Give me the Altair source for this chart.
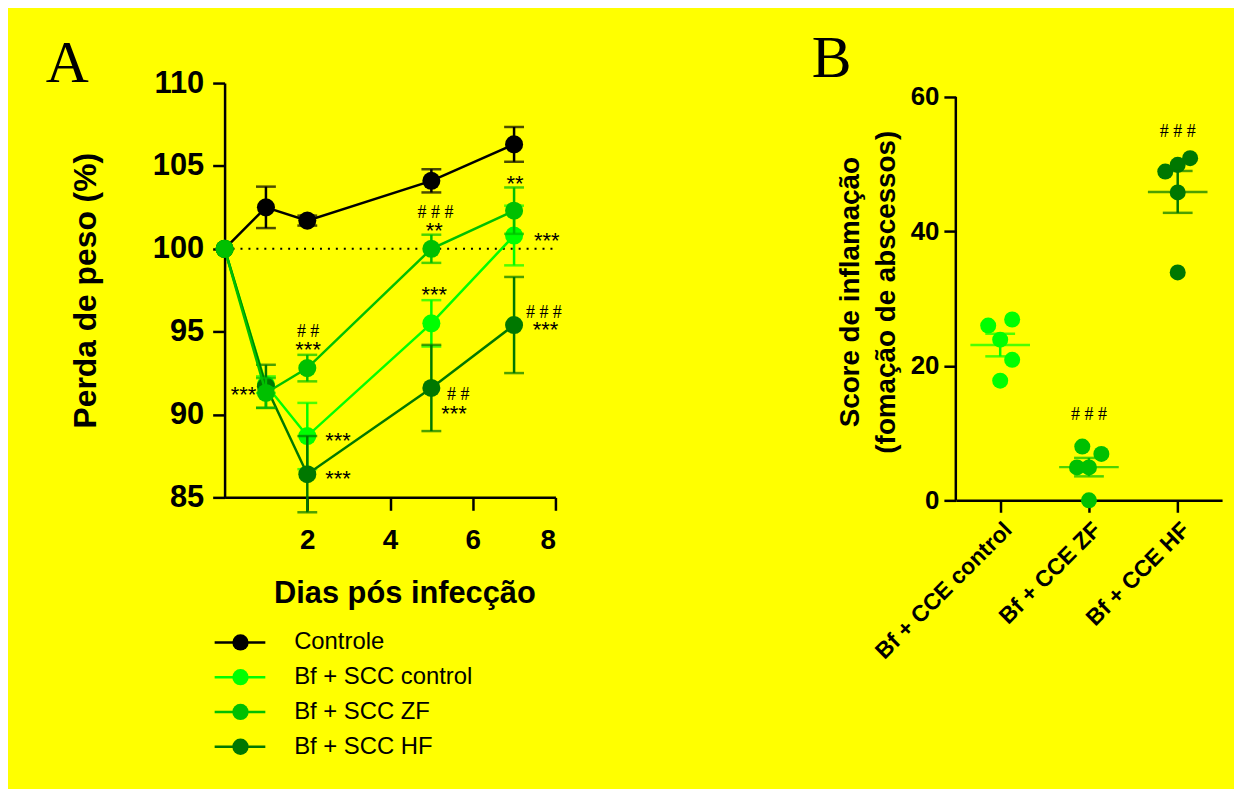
import json
import altair as alt
import pandas as pd

# ---------------- Panel A data ----------------
days = [0, 1, 2, 5, 7]
groups_a = ["Controle", "Bf + SCC control", "Bf + SCC ZF", "Bf + SCC HF"]
colors_a = ["#000000", "#00FF00", "#00C000", "#007800"]
mean_controle = [100.0, 102.5, 101.7, 104.1, 106.3]
mean_scc_control = [100.0, 91.8, 88.7, 95.5, 100.8]
mean_scc_zf = [100.0, 91.3, 92.8, 100.0, 102.3]
mean_scc_hf = [100.0, 91.7, 86.4, 91.6, 95.4]
err_controle = [0.0, 1.25, 0.3, 0.7, 1.05]
err_scc_control = [0.0, 0.5, 2.0, 1.4, 1.8]
err_scc_zf = [0.0, 0.9, 0.8, 0.85, 1.4]
err_scc_hf = [0.0, 1.3, 2.3, 2.6, 2.9]

star_text = ["***", "***", "***", "***", "**", "***", "***", "**", "***", "***"]
star_day = [0.46, 2.02, 2.74, 2.74, 5.07, 5.07, 5.55, 7.02, 7.79, 7.76]
star_val = [91.55, 94.24, 88.76, 86.45, 101.44, 97.54, 90.4, 104.26, 100.84, 95.44]
hash_text = ["# #", "# # #", "# #", "# # #"]
hash_day = [2.02, 5.1, 5.65, 7.72]
hash_val = [95.05, 102.2, 91.25, 96.16]

# ---------------- Panel B data ----------------
groups_b = ["Bf + CCE control", "Bf + CCE ZF", "Bf + CCE HF"]
colors_b = ["#00FF00", "#00C000", "#007800"]
score_control = [26.0, 26.9, 23.9, 20.9, 17.8]
score_zf = [8.0, 6.9, 4.9, 4.9, 0.0]
score_hf = [48.9, 49.9, 50.9, 45.8, 33.9]
jit_control = [-0.135, 0.135, 0.0, 0.135, 0.0]
jit_zf = [-0.075, 0.14, -0.135, 0.0, 0.0]
jit_hf = [-0.14, 0.0, 0.14, 0.0, 0.0]
hash_b_text = ["# # #", "# # #"]
hash_b_idx = [1, 2]
hash_b_val = [12.8, 54.9]

FONT = "Liberation Sans"
SERIF = "Liberation Serif"

# ---------------- Panel A ----------------
WA, HA = 333, 417
scale_xa = alt.Scale(domain=[0, 8], nice=False, zero=False)
scale_ya = alt.Scale(domain=[85, 110], nice=False, zero=False)
axis_xa = alt.Axis(values=[2, 4, 6, 8], tickSize=13, labelPadding=16, labelFontSize=28,
                   labelFontWeight="bold", titleFontSize=31, titleFontWeight="bold",
                   titlePadding=25, titleX=181, format="d")
axis_ya = alt.Axis(values=[85, 90, 95, 100, 105, 110], tickSize=12, labelPadding=9,
                   labelFontSize=31, labelFontWeight="bold", titleFontSize=32,
                   titleFontWeight="bold", titlePadding=50, format="d")
TX = "Dias pós infecção"
TY = "Perda de peso (%)"


def XA(f):
    return alt.X(f + ":Q", scale=scale_xa, axis=axis_xa, title=TX)


def YA(f):
    return alt.Y(f + ":Q", scale=scale_ya, axis=axis_ya, title=TY)


series = {
    "Controle": (mean_controle, err_controle),
    "Bf + SCC control": (mean_scc_control, err_scc_control),
    "Bf + SCC ZF": (mean_scc_zf, err_scc_zf),
    "Bf + SCC HF": (mean_scc_hf, err_scc_hf),
}

ref_df = pd.DataFrame({"y": [100.0], "x0": [0.0], "x1": [8.0]})
main_layers = [
    alt.Chart(ref_df).mark_rule(color="black", strokeWidth=2, strokeDash=[2, 6]).encode(
        x=XA("x0"), x2="x1:Q", y=YA("y"))
]
for name in ["Controle", "Bf + SCC control", "Bf + SCC HF", "Bf + SCC ZF"]:
    means, errs = series[name]
    color = colors_a[groups_a.index(name)]
    df = pd.DataFrame({"day": days, "mean": means, "err": errs})
    base = alt.Chart(df).transform_calculate(
        lo="datum.mean - datum.err", hi="datum.mean + datum.err")
    eb = base.transform_filter("datum.err > 0")
    main_layers += [
        base.mark_line(color=color, strokeWidth=2.5).encode(x=XA("day"), y=YA("mean")),
        eb.mark_rule(color=color, strokeWidth=2.5).encode(x=XA("day"), y=YA("lo"), y2="hi:Q"),
        eb.mark_tick(color=color, orient="horizontal", size=20, thickness=2.5).encode(
            x=XA("day"), y=YA("lo")),
        eb.mark_tick(color=color, orient="horizontal", size=20, thickness=2.5).encode(
            x=XA("day"), y=YA("hi")),
        base.mark_circle(color=color, size=330, opacity=1).encode(x=XA("day"), y=YA("mean")),
    ]

stars_df = pd.DataFrame({"t": star_text, "day": star_day, "val": star_val})
hash_df = pd.DataFrame({"t": hash_text, "day": hash_day, "val": hash_val})
main_layers += [
    alt.Chart(stars_df).mark_text(font=FONT, fontSize=22, color="black",
                                  baseline="alphabetic", dy=13).encode(
        x=XA("day"), y=YA("val"), text="t:N"),
    alt.Chart(hash_df).mark_text(font=SERIF, fontSize=18, color="black",
                                 baseline="alphabetic", dy=6).encode(
        x=XA("day"), y=YA("val"), text="t:N"),
]
main_a = alt.layer(*main_layers)

leg_df = pd.DataFrame({"label": groups_a})
leg_y = alt.Y("label:N", scale=alt.Scale(type="point", domain=groups_a, range=[563, 668],
                                         padding=0),
              axis=None)
leg_c = alt.Color("label:N", scale=alt.Scale(domain=groups_a, range=colors_a), legend=None)
legend_a = alt.layer(
    alt.Chart(leg_df).mark_rule(strokeWidth=2.5).encode(
        x=alt.value(-10), x2=alt.value(41), y=leg_y, color=leg_c),
    alt.Chart(leg_df).mark_circle(size=270, opacity=1).encode(
        x=alt.value(16), y=leg_y, color=leg_c),
    alt.Chart(leg_df).mark_text(font=FONT, fontSize=24, align="left", baseline="middle",
                                color="black").encode(
        x=alt.value(70), y=leg_y, text="label:N"),
)

letter_a = alt.Chart(pd.DataFrame({"t": ["A"]})).mark_text(
    font=SERIF, fontSize=60, align="left", baseline="alphabetic", color="black").encode(
    x=alt.value(-180), y=alt.value(-1), text="t:N")

panel_a = alt.layer(main_a, legend_a, letter_a).resolve_scale(y="independent").properties(
    width=WA, height=HA)

# ---------------- Panel B ----------------
WB, HB = 268, 420
YB_TOP = 60 * HB / 406.0   # value at the top of the panel (axis reaches 60, 14 px lower)
b_df = pd.DataFrame({
    "group": [groups_b[0]] * 5 + [groups_b[1]] * 5 + [groups_b[2]] * 5,
    "idx": [0] * 5 + [1] * 5 + [2] * 5,
    "jit": jit_control + jit_zf + jit_hf,
    "score": score_control + score_zf + score_hf,
})
scale_xb = alt.Scale(domain=[-0.5, 2.5], nice=False, zero=False)
scale_yb = alt.Scale(domain=[0, YB_TOP], nice=False)
axis_xb = alt.Axis(values=[0, 1, 2], labelExpr=json.dumps(groups_b) + "[datum.value]",
                   tickSize=12, labelAngle=-45, labelFontSize=23, labelFontWeight="bold",
                   labelPadding=6, labelOverlap=False, labelLimit=400, title=None)
axis_yb = alt.Axis(values=[0, 20, 40, 60], tickSize=12, labelPadding=5, labelFontSize=26,
                   labelFontWeight="bold", titleFontSize=28, titleFontWeight="bold",
                   titlePadding=10, titleLineHeight=36, domain=False)
TB = ["Score de inflamação", "(fomação de abscessos)"]


def XB(f):
    return alt.X(f + ":Q", scale=scale_xb, axis=axis_xb)


def YB(f):
    return alt.Y(f + ":Q", scale=scale_yb, axis=axis_yb, title=TB)


col_b = alt.Color("group:N", scale=alt.Scale(domain=groups_b, range=colors_b), legend=None)
axis_line_b = alt.Chart(pd.DataFrame({"x": [-0.5], "y0": [0.0], "y1": [60.0]})).mark_rule(
    color="black", strokeWidth=2.5).encode(x=XB("x"), y=YB("y0"), y2="y1:Q")
pts_b = alt.Chart(b_df).transform_calculate(xpos="datum.idx + datum.jit").mark_circle(
    size=260, opacity=1).encode(x=XB("xpos"), y=YB("score"), color=col_b)
stats = alt.Chart(b_df).transform_aggregate(
    m="mean(score)", se="stderr(score)", groupby=["group", "idx"]).transform_calculate(
    lo="datum.m - datum.se", hi="datum.m + datum.se")
mean_b = stats.mark_tick(orient="horizontal", size=60, thickness=2.5).encode(
    x=XB("idx"), y=YB("m"), color=col_b)
sem_b = stats.mark_rule(strokeWidth=2.5).encode(x=XB("idx"), y=YB("lo"), y2="hi:Q", color=col_b)
caplo_b = stats.mark_tick(orient="horizontal", size=30, thickness=2.5).encode(
    x=XB("idx"), y=YB("lo"), color=col_b)
caphi_b = stats.mark_tick(orient="horizontal", size=30, thickness=2.5).encode(
    x=XB("idx"), y=YB("hi"), color=col_b)
hash_b = alt.Chart(pd.DataFrame({"t": hash_b_text, "idx": hash_b_idx, "val": hash_b_val})).mark_text(
    font=SERIF, fontSize=18, color="black", baseline="alphabetic", dy=6).encode(
    x=XB("idx"), y=YB("val"), text="t:N")
letter_b = alt.Chart(pd.DataFrame({"t": ["B"]})).mark_text(
    font=SERIF, fontSize=60, align="left", baseline="alphabetic", color="black").encode(
    x=alt.value(-145), y=alt.value(-6), text="t:N")

panel_b = alt.layer(axis_line_b, pts_b, sem_b, caplo_b, caphi_b, mean_b, hash_b,
                    letter_b).properties(width=WB, height=HB)

chart = alt.hconcat(panel_a, panel_b, spacing=251).resolve_scale(color="independent").properties(
    background="#FFFF00",
    padding={"left": 38, "top": 19, "right": 12, "bottom": 30},
).configure_view(stroke=None).configure_axis(
    grid=False, domainColor="black", tickColor="black", labelColor="black",
    titleColor="black", domainWidth=2.5, tickWidth=2.5, labelFont=FONT, titleFont=FONT)

chart.save("out.html", embed_options={"renderer": "svg", "actions": False})
